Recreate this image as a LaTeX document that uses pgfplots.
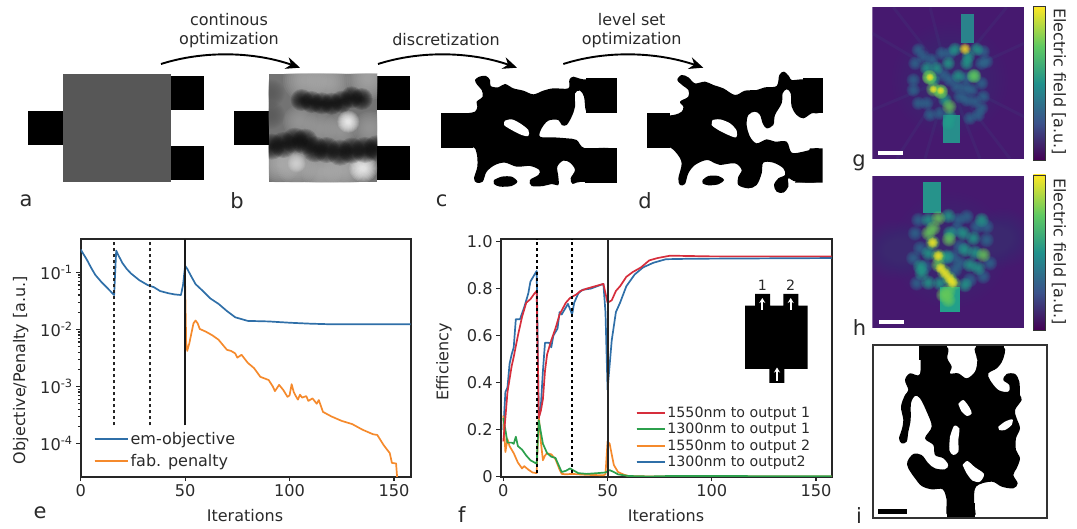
\documentclass[border=0pt]{standalone}
\usepackage{fontspec}
\usepackage{pgfplots}
\pgfplotsset{compat=1.18}
\usetikzlibrary{arrows.meta}
\setmainfont{DejaVu Sans}
\definecolor{mpblue}{HTML}{2F6FA8}
\definecolor{mporange}{HTML}{F58A2C}
\definecolor{mpred}{HTML}{D62E3C}
\definecolor{mpgreen}{HTML}{2CA04C}
\definecolor{txt}{HTML}{2A2A2A}
\definecolor{virbg}{HTML}{46196F}
\definecolor{vir1}{HTML}{440154}
\definecolor{vir2}{HTML}{3B528B}
\definecolor{vir3}{HTML}{21918C}
\definecolor{vir4}{HTML}{5EC962}
\definecolor{vir5}{HTML}{FDE725}
\definecolor{hdim}{HTML}{2F6C8E}
\definecolor{hteal}{HTML}{23A08A}
\definecolor{hgreen}{HTML}{6ACD5B}
\pgfdeclareverticalshading{viridisv}{100bp}{color(0bp)=(vir1);color(25bp)=(vir1);color(37bp)=(vir2);color(50bp)=(vir3);color(62bp)=(vir4);color(75bp)=(vir5);color(100bp)=(vir5)}
\pgfdeclareplotmark{soft}{%
  \pgfsetfillopacity{0.15}%
  \foreach \r in {1,0.91,0.82,0.73,0.64,0.55,0.46,0.37,0.28,0.19}{%
    \pgfpathcircle{\pgfpointorigin}{\r*\pgfplotmarksize}\pgfusepathqfill}%
}
\pgfdeclareplotmark{glow}{%
  \pgfsetfillopacity{0.025}%
  \foreach \r in {1,0.95,0.9,0.85,0.8,0.75,0.7,0.65,0.6,0.55,0.5,0.45,0.4,0.35,0.3,0.25,0.2,0.15,0.1,0.05}{%
    \pgfpathcircle{\pgfpointorigin}{\r*\pgfplotmarksize}\pgfusepathqfill}%
}
\pgfplotsset{
  panel/.style n args={6}{
    scale only axis, hide axis, anchor=south west,
    at={({(#1+#3/3)*1pt},{(529-(#2+#6/3))*1pt})},
    width={(#4-#3)/3*1pt}, height={(#6-#5)/3*1pt},
    xmin=#3, xmax=#4, ymin=#5, ymax=#6, y dir=reverse,
  },
  chart/.style={
    scale only axis, anchor=south west,
    axis line style={line width=1.8pt, black!85},
    tick style={line width=1.2pt, black!85},
    major tick length=4.5pt, tick align=outside, tick pos=left,
    tick label style={font=\fontsize{16.2}{18}\selectfont, text=txt},
    /pgf/number format/assume math mode=true,
    minor tick num=0,
  },
  curve/.style={line width=1.7pt, line join=round},
}
\newcommand{\soft}[3]{\addplot[only marks, mark=soft, mark size=#2, color=#1, mark options={fill=#1, draw=none}] coordinates {#3};}
\newcommand{\glow}[3]{\addplot[only marks, mark=glow, mark size=#2, color=#1, mark options={fill=#1, draw=none}] coordinates {#3};}
\begin{document}
\begin{tikzpicture}[x=1pt,y=1pt]
\path[use as bounding box] (0,0) rectangle (1077,529);

% ---- panels a, device tabs (zoom 1 coordinates)
\begin{axis}[panel={0}{0}{0}{1260}{0}{675}]
\addplot[fill=black,draw=none] coordinates {(85,333)(188,333)(188,436)(85,436)};
\addplot[fill=black!66,draw=none] coordinates {(188,221)(514,221)(514,547)(188,547)};
\addplot[fill=black,draw=none] coordinates {(514,228)(612,228)(612,331)(514,331)};
\addplot[fill=black,draw=none] coordinates {(514,437)(612,437)(612,541)(514,541)};
\addplot[fill=black,draw=none] coordinates {(703,333)(806,333)(806,436)(703,436)};
\addplot[fill=black,draw=none] coordinates {(1132,228)(1231,228)(1231,331)(1132,331)};
\addplot[fill=black,draw=none] coordinates {(1132,437)(1231,437)(1231,541)(1132,541)};
\end{axis}

% ---- panel b, grey density
\begin{axis}[panel={0}{0}{806}{1132}{221}{547}, clip mode=individual, clip marker paths=true]
\addplot[fill=black!55,draw=none] coordinates {(806,221)(1132,221)(1132,547)(806,547)};
\soft{black!32}{22}{(985,245)(915,240)(1105,235)}
\soft{black!38}{17}{(900,365)(960,385)(1020,390)(1110,385)}
\soft{black!30}{20}{(890,497)(965,515)(840,490)(1030,510)}
\soft{white}{11}{(1045,365)}
\soft{white}{14}{(1090,505)}
\soft{black!15}{9}{(890,490)}
\soft{black!65}{14}{(812,345)(812,280)}
\soft{black!95}{11}{(905,300)(935,306)(965,310)(995,311)(1025,305)(1055,292)(1085,297)}
\soft{black!95}{13}{(815,440)(850,435)(885,422)(915,425)(945,448)(980,450)(1020,458)(1055,452)(1095,450)(1130,445)}
\soft{black!85}{8}{(900,548)}
\end{axis}

% ---- panels c, d (zoom 2 coordinates)
\begin{axis}[panel={420}{0}{0}{1260}{0}{675}]
\addplot[fill=black,draw=none,smooth,tension=0.55] coordinates {
(80,350)(140,340)(165,335)(172,320)(170,305)(188,290)(185,270)(172,255)(165,240)(178,230)(198,228)(210,240)(212,258)(235,262)(255,252)(280,265)(310,272)(340,283)(370,272)(400,265)(445,265)(448,240)(460,230)(490,238)(580,245)(580,330)(510,334)(497,330)(492,290)(480,272)(465,280)(465,320)(455,350)(440,375)(425,375)(415,360)(385,362)(365,385)(360,410)(400,412)(440,415)(470,420)(495,445)(580,450)(580,540)(480,546)(458,552)(452,535)(465,510)(450,488)(430,482)(412,500)(415,530)(415,555)(395,552)(370,558)(335,558)(330,540)(355,525)(358,510)(330,498)(290,500)(255,488)(225,495)(200,515)(188,545)(170,548)(162,535)(172,500)(170,460)(155,440)(80,435)};
\addplot[fill=black,draw=none] coordinates {(63,340)(160,340)(160,443)(63,443)};
\addplot[fill=black,draw=none] coordinates {(497,235)(590,235)(590,338)(497,338)};
\addplot[fill=black,draw=none] coordinates {(495,445)(590,445)(590,548)(495,548)};
\addplot[fill=white,draw=none,smooth] coordinates {(255,362)(275,358)(300,370)(325,390)(325,408)(305,405)(275,390)(252,375)(255,362)};
\addplot[fill=black,draw=none,smooth] coordinates {(222,540)(245,530)(275,530)(292,545)(275,558)(240,560)(222,552)(222,540)};
% d
\addplot[fill=black,draw=none,smooth,tension=0.55] coordinates {
(700,350)(760,345)(785,335)(790,320)(780,305)(805,290)(805,270)(790,258)(772,240)(785,225)(805,232)(825,250)(855,245)(880,255)(910,265)(945,285)(975,272)(1010,270)(1035,262)(1070,258)(1078,225)(1092,215)(1108,230)(1115,240)(1150,238)(1200,242)(1200,332)(1175,340)(1150,355)(1130,345)(1115,320)(1112,280)(1100,268)(1088,280)(1085,310)(1065,345)(1060,375)(1040,385)(1028,370)(1020,345)(1005,335)(985,345)(980,375)(990,410)(1010,430)(1040,418)(1065,425)(1100,425)(1115,458)(1150,455)(1170,450)(1200,450)(1200,540)(1130,545)(1105,535)(1105,560)(1090,578)(1070,575)(1062,555)(1075,535)(1095,525)(1090,505)(1060,488)(1030,488)(1025,520)(1010,555)(985,565)(955,555)(955,530)(965,510)(945,490)(900,495)(885,490)(860,480)(825,495)(805,520)(795,552)(780,555)(775,535)(785,490)(770,460)(745,440)(700,435)};
\addplot[fill=black,draw=none] coordinates {(682,340)(750,340)(750,443)(682,443)};
\addplot[fill=black,draw=none] coordinates {(1150,235)(1208,235)(1208,338)(1150,338)};
\addplot[fill=black,draw=none] coordinates {(1170,445)(1208,445)(1208,548)(1125,548)};
\addplot[fill=white,draw=none,smooth] coordinates {(878,360)(900,358)(930,370)(950,392)(948,412)(925,405)(895,390)(875,375)(878,360)};
\addplot[fill=black,draw=none,smooth] coordinates {(848,540)(865,528)(895,528)(912,540)(895,553)(865,556)(848,550)(848,540)};
\end{axis}

% ---- heat map g (zoom 5 coordinates)
\begin{axis}[panel={850}{0}{67}{522}{22}{476}, clip mode=individual, clip marker paths=true]
\addplot[fill=virbg,draw=none] coordinates {(67,22)(522,22)(522,476)(67,476)};
\addplot[vir2,opacity=0.14,line width=3pt] coordinates {(295,235)(67,100)};
\addplot[vir2,opacity=0.14,line width=3pt] coordinates {(295,235)(67,330)};
\addplot[vir2,opacity=0.14,line width=3pt] coordinates {(295,235)(140,476)};
\addplot[vir2,opacity=0.14,line width=3pt] coordinates {(295,235)(225,476)};
\addplot[vir2,opacity=0.14,line width=3pt] coordinates {(295,235)(390,476)};
\addplot[vir2,opacity=0.14,line width=3pt] coordinates {(295,235)(480,476)};
\addplot[vir2,opacity=0.14,line width=3pt] coordinates {(295,235)(522,350)};
\addplot[vir2,opacity=0.14,line width=3pt] coordinates {(295,235)(522,130)};
\addplot[vir2,opacity=0.14,line width=3pt] coordinates {(295,235)(470,22)};
\addplot[vir2,opacity=0.14,line width=3pt] coordinates {(295,235)(240,22)};
\addplot[vir2,opacity=0.14,line width=3pt] coordinates {(295,235)(130,22)};
\glow{vir2}{58}{(300,240)}
\addplot[fill=hdim!55!hteal,draw=none] coordinates {(332,42)(373,42)(373,130)(332,130)};
\addplot[fill=hdim!35!hteal,draw=none] coordinates {(278,345)(330,345)(330,428)(278,428)};
\soft{hdim}{7}{(205,150)(195,190)(190,240)(190,270)(205,310)(240,345)(350,235)(395,190)(410,185)(330,290)(365,270)(395,250)(400,290)(395,325)(360,355)(385,345)(350,300)(300,240)(275,160)(300,160)(220,170)(245,180)(280,225)(345,265)(375,305)(320,260)(230,310)(270,340)(400,155)}
\soft{hteal}{7}{(315,148)(380,148)(350,190)(260,205)(295,190)(230,205)(355,170)(300,350)(295,370)(325,228)(372,228)(285,300)(250,240)}
\soft{hgreen}{7.5}{(238,232)(250,268)(272,275)(298,320)(238,232)(372,228)(272,275)}
\soft{vir5}{6}{(345,147)}
\soft{vir5}{4}{(272,272)(240,232)(250,268)}
\addplot[fill=white,draw=none] coordinates {(85,453)(160,453)(160,466)(85,466)};
\end{axis}

% ---- heat map h
\begin{axis}[panel={850}{0}{67}{522}{528}{984}, clip mode=individual, clip marker paths=true]
\addplot[fill=virbg,draw=none] coordinates {(67,528)(522,528)(522,984)(67,984)};
\glow{vir2}{58}{(300,750)}
\glow{vir2}{30}{(130,750)(460,715)}
\addplot[fill=hteal!75!hdim,draw=none] coordinates {(218,545)(272,545)(272,640)(218,640)};
\addplot[fill=hteal,draw=none] coordinates {(270,860)(330,860)(330,935)(270,935)};
\soft{hdim}{7.5}{(205,660)(195,700)(210,745)(190,775)(325,660)(350,650)(380,680)(320,690)(310,770)(330,790)(410,720)(420,790)(330,740)(315,810)(400,830)(200,850)(225,800)(290,775)(410,680)(360,840)}
\soft{hteal}{7.5}{(235,660)(295,648)(235,760)(210,800)(375,758)(345,750)(370,715)(340,700)(385,805)(345,855)(235,848)(270,850)(360,795)(395,660)(215,820)(300,700)(290,770)}
\soft{hgreen}{7.5}{(250,685)(265,655)(235,700)(297,718)(400,765)(295,875)(295,900)(280,885)}
\soft{hgreen}{7.5}{(248,728)(265,768)(265,795)(282,815)(298,835)(310,850)}
\soft{vir5}{5.5}{(248,728)(265,768)(272,805)(285,820)(298,835)(308,848)}
\addplot[fill=white,draw=none] coordinates {(87,960)(162,960)(162,973)(87,973)};
\end{axis}

% ---- colour bars, labels in pixel coordinates
\begin{axis}[panel={0}{0}{0}{3231}{0}{1587}, clip=false]
\addplot[shading=viridisv, draw=black!80, line width=0.8pt] coordinates {(3100,20)(3137,20)(3137,480)(3100,480)} -- cycle;
\addplot[shading=viridisv, draw=black!80, line width=0.8pt] coordinates {(3100,525)(3137,525)(3137,990)(3100,990)} -- cycle;
\end{axis}

% ---- panel i (zoom 6 coordinates)
\begin{axis}[panel={850}{330}{0}{681}{0}{597}]
\addplot[fill=black,draw=none,smooth,tension=0.55] coordinates {
(210,50)(290,50)(292,85)(305,110)(300,130)(325,130)(350,145)(375,125)(382,90)(378,50)(460,50)(458,90)(440,115)(415,130)(420,150)(445,180)(475,185)(478,165)(460,150)(470,132)(495,132)(508,155)(510,195)(515,210)(495,240)(500,265)(510,295)(498,325)(498,360)(510,385)(500,415)(490,435)(503,460)(490,475)(455,470)(425,455)(378,470)(372,520)(372,560)(295,560)(290,510)(278,478)(245,478)(215,468)(195,445)(175,415)(172,395)(190,372)(215,375)(235,400)(255,415)(285,418)(295,405)(280,385)(255,375)(250,345)(225,325)(245,290)(230,245)(210,205)(195,198)(183,220)(182,270)(175,305)(170,335)(155,340)(147,325)(155,300)(160,270)(153,230)(165,195)(175,180)(165,150)(180,130)(210,132)(210,50)};
\addplot[fill=black,draw=none] coordinates {(207,47)(290,47)(290,90)(207,90)};
\addplot[fill=black,draw=none] coordinates {(378,47)(462,47)(460,85)(380,85)};
\addplot[fill=black,draw=none] coordinates {(292,520)(375,520)(375,565)(292,565)};
\addplot[fill=white,draw=none,smooth] coordinates {(325,222)(340,210)(358,232)(365,250)(352,258)(335,245)(325,222)};
\addplot[fill=white,draw=none,smooth] coordinates {(445,290)(465,275)(487,268)(485,285)(465,300)(448,300)(445,290)};
\addplot[fill=white,draw=none,smooth] coordinates {(300,320)(312,288)(328,295)(325,330)(325,365)(310,375)(298,360)(300,320)};
\addplot[fill=white,draw=none,smooth] coordinates {(338,405)(352,393)(375,412)(402,432)(390,455)(368,452)(350,430)(338,405)};
\addplot[fill=black,draw=none] coordinates {(85,537)(170,537)(170,551)(85,551)};
\addplot[draw=black!80,line width=2pt] coordinates {(70,44)(592,44)(592,565)(70,565)} -- cycle;
\end{axis}

% ---- chart e
\begin{axis}[chart, at={(80.7pt,52.3pt)}, width=330pt, height=237.7pt,
  xmin=0, xmax=158, ymode=log, ymin=2.64e-5, ymax=0.383,
  xtick={0,50,100,150},
  ytick={1e-4,1e-3,1e-2,1e-1},
  yticklabels={{10\textsuperscript{-4}},{10\textsuperscript{-3}},{10\textsuperscript{-2}},{10\textsuperscript{-1}}},
  legend style={draw=none, fill=none, at={(0.036,0.024)}, anchor=south west, font=\fontsize{16}{18}\selectfont, text=txt, row sep=4pt, inner sep=1pt},
  legend cell align=left,
  legend image code/.code={\draw[#1,line width=1.9pt] (0pt,0pt) -- (28pt,0pt);\path (0pt,0pt) -- (33pt,0pt);},
]
\addplot[curve, mpblue] coordinates {(0,0.25)(3,0.165)(5,0.12)(7,0.09)(10,0.067)(13,0.052)(16,0.040)(17,0.24)(18,0.2)(20,0.145)(22,0.115)(24,0.096)(28,0.073)(32,0.06)(33,0.058)(35,0.055)(38,0.047)(42,0.043)(45,0.041)(48,0.040)(49,0.06)(50,0.13)(51,0.115)(53,0.084)(55,0.062)(58,0.049)(62,0.035)(66,0.028)(70,0.021)(74,0.0163)(80,0.0141)(90,0.0138)(100,0.0131)(110,0.0126)(120,0.0123)(158,0.0123)};
\addlegendentry{em-objective}
\addplot[curve, mporange] coordinates {(50,0.06)(50.5,0.006)(51,0.0042)(52,0.0057)(54,0.0128)(55,0.0143)(56,0.0128)(57,0.0102)(60,0.0091)(63,0.0079)(66,0.0066)(70,0.0044)(72,0.0042)(74,0.0038)(75,0.0032)(77,0.0036)(80,0.0026)(83,0.0021)(86,0.00148)(90,0.0013)(92,0.001)(93,0.00083)(95,0.00107)(97,0.00087)(99,0.00066)(100,0.0007)(101,0.0011)(102,0.0008)(103,0.00068)(104,0.00059)(105,0.00072)(106,0.00064)(108,0.00068)(109,0.00056)(111,0.00062)(113,0.0005)(114,0.00058)(116,0.00036)(120,0.0003)(125,0.00025)(130,0.00022)(135,0.000175)(140,0.000146)(142,0.000142)(145,9.5e-5)(148,6.8e-5)(149,4.6e-5)(151,4.5e-5)(151.5,2.6e-5)(152,1.5e-5)};
\addlegendentry{fab. penalty}
\addplot[forget plot, black!85, line width=1.8pt, dash pattern=on 3pt off 3pt] coordinates {(16,2.1e-4)(16,0.383)};
\addplot[forget plot, black!85, line width=1.8pt, dash pattern=on 3pt off 3pt] coordinates {(33,2.1e-4)(33,0.383)};
\addplot[forget plot, black!90, line width=1.6pt] coordinates {(50,2.1e-4)(50,0.383)};
\end{axis}

% ---- chart f
\begin{axis}[chart, at={(500.7pt,52.3pt)}, width=331pt, height=237.7pt,
  xmin=-1.25, xmax=157.5, ymin=0, ymax=1.011,
  xtick={0,50,100,150}, ytick={0,0.2,0.4,0.6,0.8,1.0},
  yticklabels={0,0.2,0.4,0.6,0.8,1.0},
  reverse legend,
  legend style={draw=none, fill=none, at={(0.404,0.022)}, anchor=south west, font=\fontsize{14.2}{16}\selectfont, text=txt, row sep=0.45pt, inner sep=1pt},
  legend cell align=left,
  legend image code/.code={\draw[#1,line width=1.9pt] (0pt,0pt) -- (25pt,0pt);\path (0pt,0pt) -- (28pt,0pt);},
]
\addplot[curve, mpblue] coordinates {(0,0.2)(1,0.36)(2,0.38)(3,0.48)(4,0.52)(5,0.55)(6,0.67)(8,0.67)(10,0.72)(12,0.78)(13,0.83)(15,0.86)(16,0.875)(17,0.25)(18,0.3)(19,0.45)(20,0.57)(22,0.57)(23,0.55)(24,0.6)(26,0.63)(27,0.70)(28,0.69)(30,0.72)(31,0.735)(33,0.69)(34,0.74)(36,0.78)(38,0.795)(42,0.80)(45,0.81)(48,0.82)(49,0.7)(50,0.37)(52,0.58)(54,0.7)(56,0.74)(59,0.81)(63,0.86)(67,0.89)(72,0.91)(78,0.925)(90,0.927)(158,0.93)};
\addlegendentry{1300nm to output2}
\addplot[curve, mporange] coordinates {(0,0.26)(1,0.105)(2,0.16)(3,0.13)(5,0.10)(7,0.06)(9,0.035)(10,0.045)(12,0.03)(14,0.018)(16,0.015)(17,0.26)(18,0.15)(19,0.07)(20,0.09)(21,0.10)(23,0.095)(25,0.075)(27,0.03)(28,0.012)(30,0.01)(33,0.012)(36,0.01)(40,0.008)(48,0.006)(49,0.01)(50,0.15)(51,0.14)(53,0.05)(55,0.02)(58,0.008)(60,0.003)(70,0.001)(158,0.001)};
\addlegendentry{1550nm to output 2}
\addplot[curve, mpgreen] coordinates {(0,0.25)(1,0.20)(2,0.145)(4,0.145)(5,0.14)(6,0.17)(7,0.13)(9,0.115)(11,0.09)(13,0.07)(16,0.055)(17,0.24)(18,0.19)(19,0.14)(20,0.12)(21,0.10)(23,0.085)(25,0.08)(27,0.04)(28,0.02)(30,0.025)(32,0.035)(34,0.025)(36,0.015)(40,0.012)(45,0.015)(49,0.018)(51,0.028)(53,0.02)(55,0.01)(60,0.003)(70,0.001)(80,0.003)(158,0.002)};
\addlegendentry{1300nm to output 1}
\addplot[curve, mpred] coordinates {(0,0.15)(1,0.25)(2,0.36)(4,0.47)(5,0.51)(7,0.60)(9,0.68)(11,0.74)(13,0.755)(15,0.78)(16,0.79)(17,0.25)(18,0.28)(19,0.33)(20,0.45)(21,0.52)(23,0.58)(25,0.63)(27,0.69)(30,0.74)(32,0.76)(33,0.765)(35,0.775)(37,0.79)(40,0.80)(44,0.81)(48,0.82)(50,0.74)(52,0.75)(54,0.79)(56,0.81)(59,0.85)(62,0.87)(66,0.89)(70,0.92)(74,0.93)(80,0.94)(100,0.937)(158,0.937)};
\addlegendentry{1550nm to output 1}
\addplot[forget plot, black, line width=1.8pt, dash pattern=on 3pt off 3pt] coordinates {(16,0.015)(16,1.011)};
\addplot[forget plot, black, line width=1.8pt, dash pattern=on 3pt off 3pt] coordinates {(33,0.015)(33,1.011)};
\addplot[forget plot, black!85, line width=1.9pt] coordinates {(50.1,0)(50.1,1.011)};
\end{axis}

% ---- inset, arrows and every remaining label, pixel coordinates
\begin{axis}[panel={0}{0}{0}{3231}{0}{1587}, clip=false, xmin=0, xmax=1077, ymin=0, ymax=529]
\addplot[fill=black,draw=none] coordinates {(745,305.7)(755,305.7)(755,294)(770,294)(770,305.7)(783.3,305.7)(783.3,294)(798.3,294)(798.3,305.7)(807.7,305.7)(807.7,369)(784.3,369)(784.3,383)(769.3,383)(769.3,369)(745,369)};
\addplot[white,line width=1.8pt,-{Stealth[length=5pt,width=6pt]}] coordinates {(762.3,310)(762.3,298)};
\addplot[white,line width=1.8pt,-{Stealth[length=5pt,width=6pt]}] coordinates {(790.7,310)(790.7,298)};
\addplot[white,line width=1.8pt,-{Stealth[length=5pt,width=6pt]}] coordinates {(777,381)(777,367.5)};
\node[font=\fontsize{14.2}{16}\selectfont,text=txt] at (762.3,285) {1};
\node[font=\fontsize{14.2}{16}\selectfont,text=txt] at (790.7,285) {2};
% process arrows
\draw[black,line width=1.9pt,-{Stealth[length=14pt,width=12pt]}] (161,64) .. controls (205,50) and (255,52) .. (300,67.7);
\draw[black,line width=1.9pt,-{Stealth[length=14pt,width=12pt]}] (378,64) .. controls (422,50) and (472,52) .. (517,67.7);
\draw[black,line width=1.9pt,-{Stealth[length=14pt,width=12pt]}] (563.3,64) .. controls (607,50) and (657,52) .. (703.3,67.7);
\tikzset{lab/.style={font=\fontsize{16}{18}\selectfont,text=txt},
         pan/.style={font=\fontsize{21}{23}\selectfont,text=txt}}
\node[lab] at (229,20) {continous};
\node[lab] at (229,40) {optimization};
\node[lab] at (446,39.5) {discretization};
\node[lab] at (631.7,20) {level set};
\node[lab] at (631.7,40) {optimization};
\node[pan] at (26,201) {a};
\node[pan] at (237,201) {b};
\node[pan] at (441.7,201) {c};
\node[pan] at (645,201) {d};
\node[pan] at (40,513) {e};
\node[pan] at (461.7,515) {f};
\node[pan] at (859,163) {g};
\node[pan] at (859.5,328) {h};
\node[pan] at (859,516) {i};
\node[lab,rotate=90] at (20.7,370) {Objective/Penalty [a.u.]};
\node[lab] at (245,515.7) {Iterations};
\node[lab] at (666,515.7) {Iterations};
\node[lab,rotate=90] at (444,361.7) {Efficiency};
\node[lab,rotate=-90] at (1059,81.7) {Electric field [a.u.]};
\node[lab,rotate=-90] at (1059,251.7) {Electric field [a.u.]};
\end{axis}
\end{tikzpicture}
\end{document}
